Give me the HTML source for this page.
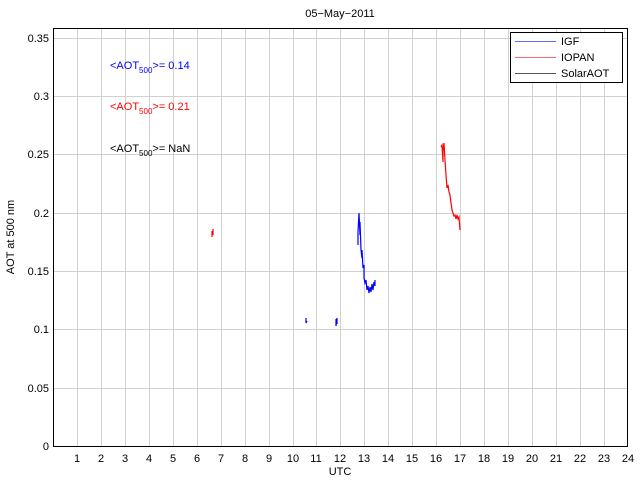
<!DOCTYPE html>
<html><head><style>
body{margin:0;background:#fff;}
svg{display:block;font-family:"Liberation Sans",Helvetica,sans-serif;}
</style></head><body>
<svg width="640" height="480" viewBox="0 0 640 480" xmlns="http://www.w3.org/2000/svg">
<rect width="640" height="480" fill="#fff"/>
<g stroke="#d0d0d0" stroke-width="1">
<line x1="77.5" y1="28" x2="77.5" y2="446"/><line x1="101.5" y1="28" x2="101.5" y2="446"/><line x1="125.5" y1="28" x2="125.5" y2="446"/><line x1="149.5" y1="28" x2="149.5" y2="446"/><line x1="173.5" y1="28" x2="173.5" y2="446"/><line x1="197.5" y1="28" x2="197.5" y2="446"/><line x1="221.5" y1="28" x2="221.5" y2="446"/><line x1="245.5" y1="28" x2="245.5" y2="446"/><line x1="269.5" y1="28" x2="269.5" y2="446"/><line x1="293.5" y1="28" x2="293.5" y2="446"/><line x1="316.5" y1="28" x2="316.5" y2="446"/><line x1="340.5" y1="28" x2="340.5" y2="446"/><line x1="364.5" y1="28" x2="364.5" y2="446"/><line x1="388.5" y1="28" x2="388.5" y2="446"/><line x1="412.5" y1="28" x2="412.5" y2="446"/><line x1="436.5" y1="28" x2="436.5" y2="446"/><line x1="460.5" y1="28" x2="460.5" y2="446"/><line x1="484.5" y1="28" x2="484.5" y2="446"/><line x1="508.5" y1="28" x2="508.5" y2="446"/><line x1="532.5" y1="28" x2="532.5" y2="446"/><line x1="556.5" y1="28" x2="556.5" y2="446"/><line x1="580.5" y1="28" x2="580.5" y2="446"/><line x1="604.5" y1="28" x2="604.5" y2="446"/>
<line x1="53" y1="388.5" x2="628" y2="388.5"/><line x1="53" y1="329.5" x2="628" y2="329.5"/><line x1="53" y1="271.5" x2="628" y2="271.5"/><line x1="53" y1="213.5" x2="628" y2="213.5"/><line x1="53" y1="154.5" x2="628" y2="154.5"/><line x1="53" y1="96.5" x2="628" y2="96.5"/><line x1="53" y1="38.5" x2="628" y2="38.5"/>
</g>
<rect x="53.5" y="28.5" width="574" height="418" fill="none" stroke="#000"/>
<g font-size="11" fill="#000" text-anchor="end">
<text x="49" y="450">0</text><text x="49" y="392">0.05</text><text x="49" y="333">0.1</text><text x="49" y="275">0.15</text><text x="49" y="217">0.2</text><text x="49" y="158">0.25</text><text x="49" y="100">0.3</text><text x="49" y="42">0.35</text>
</g>
<g font-size="11" fill="#000" text-anchor="middle">
<text x="77" y="462">1</text><text x="101" y="462">2</text><text x="125" y="462">3</text><text x="149" y="462">4</text><text x="173" y="462">5</text><text x="197" y="462">6</text><text x="221" y="462">7</text><text x="245" y="462">8</text><text x="269" y="462">9</text><text x="293" y="462">10</text><text x="316" y="462">11</text><text x="340" y="462">12</text><text x="364" y="462">13</text><text x="388" y="462">14</text><text x="412" y="462">15</text><text x="436" y="462">16</text><text x="460" y="462">17</text><text x="484" y="462">18</text><text x="508" y="462">19</text><text x="532" y="462">20</text><text x="556" y="462">21</text><text x="580" y="462">22</text><text x="604" y="462">23</text><text x="628" y="462">24</text>
<text x="340" y="475">UTC</text>
<text x="340" y="17">05−May−2011</text>
</g>
<text transform="translate(14,237) rotate(-90)" font-size="11" text-anchor="middle">AOT at 500 nm</text>
<g fill="none" stroke-width="1.2">
<path stroke="#00f" d="M306 318 L306 323 L307 321 M336 319 L336 326 L337 318 L337 324"/>
<path stroke="#00f" d="M358 245 L358 232 L359 213 L360 235 L360 222 L361 250 L362 258 L362 250 L363 268 L364 265 L364 278 L365 283 L366 280 L367 290 L368 286 L369 293 L370 287 L371 292 L372 284 L373 290 L374 282 L375 286 L375 280"/>
<path stroke="#f00" d="M212 231 L212 237 M213 229 L213 235"/>
<path stroke="#f00" d="M441 147 L442 145 L443 162 L443 150 L444 143 L445 160 L446 175 L447 188 L448 185 L449 192 L450 195 L451 203 L452 210 L453 213 L454 216 L455 215 L456 219 L457 215 L458 219 L459 217 L460 230"/>
</g>
<rect x="510.5" y="32.5" width="112" height="50" fill="#fff" stroke="#000"/>
<g font-size="11">
<line x1="515" y1="41.5" x2="556" y2="41.5" stroke="#6666ff" stroke-width="1"/><text x="561" y="45">IGF</text>
<line x1="515" y1="57.5" x2="556" y2="57.5" stroke="#ff6666" stroke-width="1"/><text x="561" y="61">IOPAN</text>
<line x1="515" y1="73.5" x2="556" y2="73.5" stroke="#555" stroke-width="1"/><text x="561" y="77">SolarAOT</text>
</g>
<g font-size="11">
<text x="110" y="69" fill="#00f">&lt;AOT<tspan font-size="8" dy="4">500</tspan><tspan dy="-4">&gt;= 0.14</tspan></text>
<text x="110" y="110" fill="#f00">&lt;AOT<tspan font-size="8" dy="4">500</tspan><tspan dy="-4">&gt;= 0.21</tspan></text>
<text x="110" y="152" fill="#000">&lt;AOT<tspan font-size="8" dy="4">500</tspan><tspan dy="-4">&gt;=  NaN</tspan></text>
</g>
</svg>
</body></html>
